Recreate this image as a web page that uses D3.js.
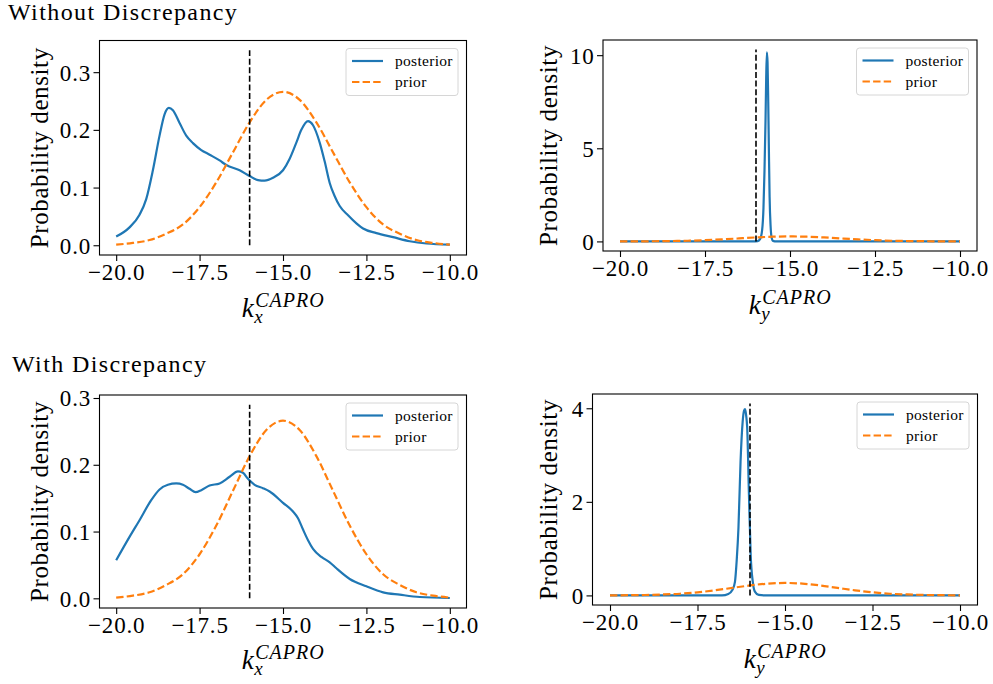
<!DOCTYPE html>
<html>
<head>
<meta charset="utf-8">
<script src="https://cdn.jsdelivr.net/npm/d3@7"></script>
<style>
body { margin: 0; background: #fff; }
svg text { font-family: "Liberation Serif", "Times New Roman", serif; fill: #000; }
</style>
</head>
<body>
<svg id="chart" width="993" height="684"></svg>
<script>
// ==========================
// DATA
// ==========================
const xTicks = [-20, -17.5, -15, -12.5, -10];
const trueK = -16;
const titles = ["Without Discrepancy", "With Discrepancy"];
const seriesNames = ["posterior", "prior"];

// prior (same in every panel)
const priorK = [-20, -19.5, -19, -18.5, -18, -17.5, -17, -16.5, -16, -15.5, -15,
                -14.5, -14, -13.5, -13, -12.5, -12, -11.5, -11, -10.5, -10];
const priorDensity = [0.001, 0.004, 0.009, 0.020, 0.036, 0.066, 0.109, 0.161, 0.213, 0.252, 0.266,
                      0.252, 0.213, 0.161, 0.109, 0.066, 0.036, 0.020, 0.009, 0.004, 0.001];

// posterior k_x, without discrepancy
const postKxA = [-20, -19.6, -19.3, -19.1, -18.9, -18.7, -18.55, -18.42, -18.3, -18.1, -17.9, -17.7,
                 -17.45, -17.2, -16.9, -16.7, -16.3, -16.0, -15.75, -15.55, -15.3, -15.0, -14.8, -14.6,
                 -14.45, -14.25, -14.1, -13.9, -13.75, -13.6, -13.45, -13.3, -13.05, -12.8, -12.6,
                 -12.2, -11.7, -11.2, -10.7, -10];
const postDxA = [0.015, 0.031, 0.053, 0.080, 0.130, 0.190, 0.227, 0.238, 0.234, 0.212, 0.190, 0.177,
                 0.165, 0.157, 0.147, 0.139, 0.130, 0.120, 0.113, 0.112, 0.117, 0.130, 0.150, 0.178,
                 0.200, 0.215, 0.208, 0.178, 0.145, 0.108, 0.085, 0.068, 0.052, 0.038, 0.029,
                 0.021, 0.014, 0.007, 0.003, 0.001];

// posterior k_y, without discrepancy
const postKyA = [-20, -16.1, -15.95, -15.88, -15.82, -15.78, -15.75, -15.72, -15.70, -15.68, -15.66,
                 -15.64, -15.62, -15.60, -15.57, -15.54, -15.50, -15.4, -10];
const postDyA = [0, 0, 0.02, 0.12, 0.6, 1.8, 3.8, 6.5, 8.8, 10.15, 9.6,
                 7.5, 4.8, 2.4, 0.8, 0.2, 0.03, 0, 0];

// posterior k_x, with discrepancy
const postKxB = [-20, -19.6, -19.3, -18.95, -18.7, -18.45, -18.2, -18.0, -17.8, -17.62, -17.45, -17.2,
                 -16.9, -16.6, -16.35, -16.2, -16.05, -15.85, -15.6, -15.4, -15.0, -14.7, -14.55,
                 -14.4, -14.25, -14.1, -13.85, -13.6, -13.4, -13.0, -12.5, -12.0, -11.5, -10.9, -10];
const postDxB = [0.057, 0.092, 0.117, 0.147, 0.163, 0.170, 0.172, 0.170, 0.164, 0.159, 0.162, 0.169,
                 0.172, 0.182, 0.190, 0.188, 0.179, 0.170, 0.165, 0.160, 0.143, 0.130, 0.120,
                 0.103, 0.087, 0.074, 0.062, 0.054, 0.045, 0.029, 0.018, 0.009, 0.0055, 0.002, 0.0005];

// posterior k_y, with discrepancy
const postKyB = [-20, -16.8, -16.62, -16.5, -16.43, -16.38, -16.33, -16.27, -16.21, -16.17, -16.14,
                 -16.11, -16.08, -16.03, -15.98, -15.92, -15.86, -15.75, -15.6, -10];
const postDyB = [0, 0, 0.03, 0.12, 0.29, 0.75, 1.44, 2.86, 3.71, 3.95, 3.98,
                 3.85, 3.58, 2.15, 0.86, 0.29, 0.08, 0.01, 0, 0];

// height of the dashed "true value" line per panel
const trueLineTop = [0.338, 10.3, 0.29, 4.1];

const yTicksA = [0, 0.1, 0.2, 0.3];
const yTicksKyA = [0, 5, 10];
const yTicksKyB = [0, 2, 4];

// ==========================
// LAYOUT
// ==========================
const blue = "#1f77b4", orange = "#ff7f0e";
const serif = '"Liberation Serif", "Times New Roman", serif';
const svg = d3.select("#chart");

const panels = [
    { k: postKxA, d: postDxA, top: trueLineTop[0], yTicks: yTicksA, fmt: ".1f", sub: "x",
      box: [99.5, 40.5, 466.5, 255], ylabX: 48, xlabY: 317 },
    { k: postKyA, d: postDyA, top: trueLineTop[1], yTicks: yTicksKyA, fmt: "d", sub: "y",
      box: [603, 40, 977, 251], ylabX: 557, xlabY: 314 },
    { k: postKxB, d: postDxB, top: trueLineTop[2], yTicks: yTicksA, fmt: ".1f", sub: "x",
      box: [99.5, 395, 466.5, 608], ylabX: 48, xlabY: 669 },
    { k: postKyB, d: postDyB, top: trueLineTop[3], yTicks: yTicksKyB, fmt: "d", sub: "y",
      box: [592.5, 394, 977.5, 605], ylabX: 557, xlabY: 668 }
];

// titles
svg.append("text").attr("x", 8).attr("y", 20)
    .style("font-size", "24px").style("letter-spacing", "1.4px").text(titles[0]);
svg.append("text").attr("x", 12).attr("y", 372)
    .style("font-size", "24px").style("letter-spacing", "1.4px").text(titles[1]);

panels.forEach((p, i) => {
    const [x0, y0, x1, y1] = p.box;
    const g = svg.append("g");

    // matplotlib style 5% margins
    const kExt = d3.extent(priorK);
    const kPad = (kExt[1] - kExt[0]) * 0.05;
    const x = d3.scaleLinear().domain([kExt[0] - kPad, kExt[1] + kPad]).range([x0, x1]);
    const yMax = Math.max(p.top, d3.max(p.d), d3.max(priorDensity));
    const y = d3.scaleLinear().domain([-0.05 * yMax, 1.05 * yMax]).range([y1, y0]);

    const clipId = "clip" + i;
    svg.append("clipPath").attr("id", clipId)
        .append("rect").attr("x", x0).attr("y", y0).attr("width", x1 - x0).attr("height", y1 - y0);

    const plot = g.append("g").attr("clip-path", `url(#${clipId})`);

    const line = d3.line().x(d => x(d[0])).y(d => y(d[1])).curve(d3.curveMonotoneX);

    plot.append("path")
        .datum(d3.zip(p.k, p.d))
        .attr("d", line)
        .attr("fill", "none").attr("stroke", blue).attr("stroke-width", 2.2)
        .attr("stroke-linejoin", "round");

    plot.append("path")
        .datum(d3.zip(priorK, priorDensity))
        .attr("d", line)
        .attr("fill", "none").attr("stroke", orange).attr("stroke-width", 2.2)
        .attr("stroke-dasharray", "7.4,3.2");

    plot.append("line")
        .attr("x1", x(trueK)).attr("x2", x(trueK))
        .attr("y1", y(0)).attr("y2", y(p.top))
        .attr("stroke", "#000").attr("stroke-width", 1.6)
        .attr("stroke-dasharray", "6,2.6");

    // axes
    const xAxis = g.append("g").attr("transform", `translate(0,${y1})`)
        .call(d3.axisBottom(x).tickValues(xTicks).tickSize(6).tickFormat(d3.format(".1f")));
    xAxis.attr("font-family", serif).attr("font-size", null);
    xAxis.select(".domain").remove();
    xAxis.selectAll(".tick line").attr("stroke-width", 1.1);
    xAxis.selectAll(".tick text").attr("y", 24.5).attr("dy", 0)
        .style("font-family", serif).style("font-size", "23px").style("letter-spacing", "0.8px");

    const yAxis = g.append("g").attr("transform", `translate(${x0},0)`)
        .call(d3.axisLeft(y).tickValues(p.yTicks).tickSize(6).tickPadding(2.5).tickFormat(d3.format(p.fmt)));
    yAxis.attr("font-family", serif).attr("font-size", null);
    yAxis.select(".domain").remove();
    yAxis.selectAll(".tick line").attr("stroke-width", 1.1);
    yAxis.selectAll(".tick text").attr("dy", "0.34em")
        .style("font-family", serif).style("font-size", "23px").style("letter-spacing", "0.8px");

    // frame
    g.append("rect").attr("x", x0).attr("y", y0).attr("width", x1 - x0).attr("height", y1 - y0)
        .attr("fill", "none").attr("stroke", "#000").attr("stroke-width", 1.1);

    // y label
    g.append("text")
        .attr("transform", `translate(${p.ylabX},${(y0 + y1) / 2}) rotate(-90)`)
        .attr("text-anchor", "middle")
        .style("font-size", "25px").style("letter-spacing", "0.6px")
        .text("Probability density");

    // x label k_x^{CAPRO}
    const xl = g.append("g");
    const kT = xl.append("text").style("font-size", "27px").style("font-style", "italic").text("k");
    const subT = xl.append("text").style("font-size", "19px").style("font-style", "italic").text(p.sub);
    const supT = xl.append("text").style("font-size", "20px").style("font-style", "italic")
        .style("letter-spacing", "1px").text("CAPRO");
    const kw = kT.node().getComputedTextLength();
    const sw = supT.node().getComputedTextLength();
    const start = (x0 + x1) / 2 - (kw + 1 + sw) / 2;
    kT.attr("x", start).attr("y", p.xlabY);
    subT.attr("x", start + kw + 0.5).attr("y", p.xlabY + 6);
    supT.attr("x", start + kw + 1.5).attr("y", p.xlabY - 10);

    // legend
    const lw = 112, lh = 47;
    const lx = x1 - 8.5 - lw, ly = y0 + 8;
    const lg = g.append("g").attr("transform", `translate(${lx},${ly})`);
    lg.append("rect").attr("width", lw).attr("height", lh).attr("rx", 3)
        .attr("fill", "#fff").attr("fill-opacity", 0.8)
        .attr("stroke", "#d6d6d6").attr("stroke-width", 1);
    seriesNames.forEach((name, j) => {
        const ry = 12.5 + j * 21;
        lg.append("line").attr("x1", 6).attr("x2", 37).attr("y1", ry).attr("y2", ry)
            .attr("stroke", j === 0 ? blue : orange).attr("stroke-width", 2.2)
            .attr("stroke-dasharray", j === 0 ? null : "7.4,3.2");
        lg.append("text").attr("x", 49).attr("y", ry + 5)
            .style("font-size", "15.5px").style("letter-spacing", "0.3px").text(name);
    });
});
</script>
</body>
</html>
